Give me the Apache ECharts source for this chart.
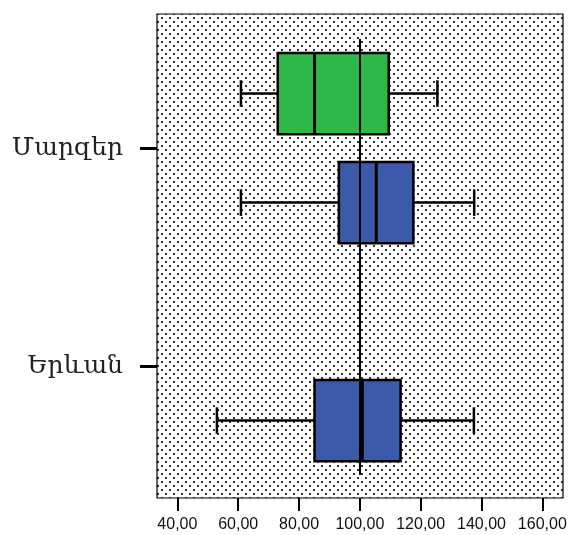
<!DOCTYPE html>
<html>
<head>
<meta charset="utf-8">
<script src="https://cdn.jsdelivr.net/npm/echarts@6/dist/echarts.min.js"></script>
<style>
html,body{margin:0;padding:0;background:#fff;}
#chart{width:571px;height:535px;}
</style>
</head>
<body>
<div id="chart"></div>
<script>
// ---- data ----
const categories = ['Մարզեր', 'Երևան'];
const xTickValues = [40, 60, 80, 100, 120, 140, 160];
const referenceValue = 100;
// [min, Q1, median, Q3, max] per category (null = no box)
const greenStats = [
  [60.9, 73.0, 85.1, 109.5, 125.5],
  null
];
const blueStats = [
  [60.9, 93.1, 105.4, 117.6, 137.6],
  [53.0, 85.1, 100.8, 113.4, 137.5]
];

// ---- style ----
const GREEN = '#2EB84A';
const BLUE = '#3D59A9';
const BOX_HALF = 0.186;
const CAP_HALF = 0.061;

function makePattern() {
  const c = document.createElement('canvas');
  c.width = 8; c.height = 8;
  const g = c.getContext('2d');
  g.fillStyle = '#fff';
  g.fillRect(0, 0, 8, 8);
  g.fillStyle = '#333';
  g.fillRect(1, 1, 2, 2);
  g.fillRect(5, 5, 2, 2);
  return c;
}

function buildData(stats) {
  const out = [];
  stats.forEach((s, i) => { if (s) out.push([i].concat(s)); });
  return out;
}

function makeRenderer(offset, color) {
  return function (params, api) {
    const cat = api.value(0) + offset;
    const vmin = api.value(1), q1 = api.value(2), med = api.value(3), q3 = api.value(4), vmax = api.value(5);
    const pMin = api.coord([vmin, cat]);
    const pQ1 = api.coord([q1, cat]);
    const pMed = api.coord([med, cat]);
    const pQ3 = api.coord([q3, cat]);
    const pMax = api.coord([vmax, cat]);
    const bh = api.size([0, BOX_HALF])[1];
    const ch = api.size([0, CAP_HALF])[1];
    const y = pMin[1];
    const ls = { stroke: '#000', lineWidth: 2.5 };
    return {
      type: 'group',
      children: [
        { type: 'line', shape: { x1: pMin[0], y1: y, x2: pQ1[0], y2: y }, style: ls },
        { type: 'line', shape: { x1: pQ3[0], y1: y, x2: pMax[0], y2: y }, style: ls },
        { type: 'line', shape: { x1: pMin[0], y1: y - ch, x2: pMin[0], y2: y + ch }, style: ls },
        { type: 'line', shape: { x1: pMax[0], y1: y - ch, x2: pMax[0], y2: y + ch }, style: ls },
        { type: 'rect', shape: { x: pQ1[0], y: y - bh, width: pQ3[0] - pQ1[0], height: 2 * bh },
          style: { fill: color, stroke: '#000', lineWidth: 2.5 } },
        { type: 'line', shape: { x1: pMed[0], y1: y - bh, x2: pMed[0], y2: y + bh }, style: { stroke: '#000', lineWidth: 3 } }
      ]
    };
  };
}

const chart = echarts.init(document.getElementById('chart'), null, { renderer: 'canvas' });
chart.setOption({
  animation: false,
  backgroundColor: '#fff',
  grid: {
    left: 157, right: 8, top: 14, bottom: 37,
    show: true,
    borderColor: '#000',
    borderWidth: 1.2,
    backgroundColor: { image: makePattern(), repeat: 'repeat' }
  },
  xAxis: {
    type: 'value',
    min: 33.3,
    max: 166.8,
    splitLine: { show: false },
    axisLine: { show: false, onZero: false },
    axisTick: { show: true, length: 13, lineStyle: { color: '#000', width: 2 }, customValues: xTickValues },
    axisLabel: {
      customValues: xTickValues,
      margin: 19,
      color: '#111',
      fontFamily: 'Liberation Sans, Arial, sans-serif',
      fontSize: 16,
      formatter: v => v.toFixed(2).replace('.', ',')
    }
  },
  yAxis: {
    type: 'value',
    inverse: true,
    min: -0.615,
    max: 1.605,
    splitLine: { show: false },
    axisLine: { show: false, onZero: false },
    axisTick: { show: true, length: 17, lineStyle: { color: '#000', width: 3 }, customValues: [0, 1] },
    axisLabel: {
      customValues: [0, 1],
      margin: 34,
      color: '#222',
      fontFamily: 'DejaVu Serif, serif',
      fontSize: 25,
      formatter: v => categories[Math.round(v)]
    }
  },
  series: [
    {
      name: 'green',
      type: 'custom',
      renderItem: makeRenderer(-0.25, GREEN),
      encode: { x: [1, 2, 3, 4, 5], y: 0 },
      data: buildData(greenStats),
      z: 2
    },
    {
      name: 'blue',
      type: 'custom',
      renderItem: makeRenderer(0.25, BLUE),
      encode: { x: [1, 2, 3, 4, 5], y: 0 },
      data: buildData(blueStats),
      z: 2,
      markLine: {
        silent: true,
        symbol: 'none',
        z: 5,
        label: { show: false },
        lineStyle: { color: '#000', width: 2, type: 'solid' },
        data: [[
          { coord: [referenceValue, -0.5] },
          { coord: [referenceValue, categories.length - 0.5] }
        ]]
      }
    }
  ]
});
</script>
</body>
</html>
